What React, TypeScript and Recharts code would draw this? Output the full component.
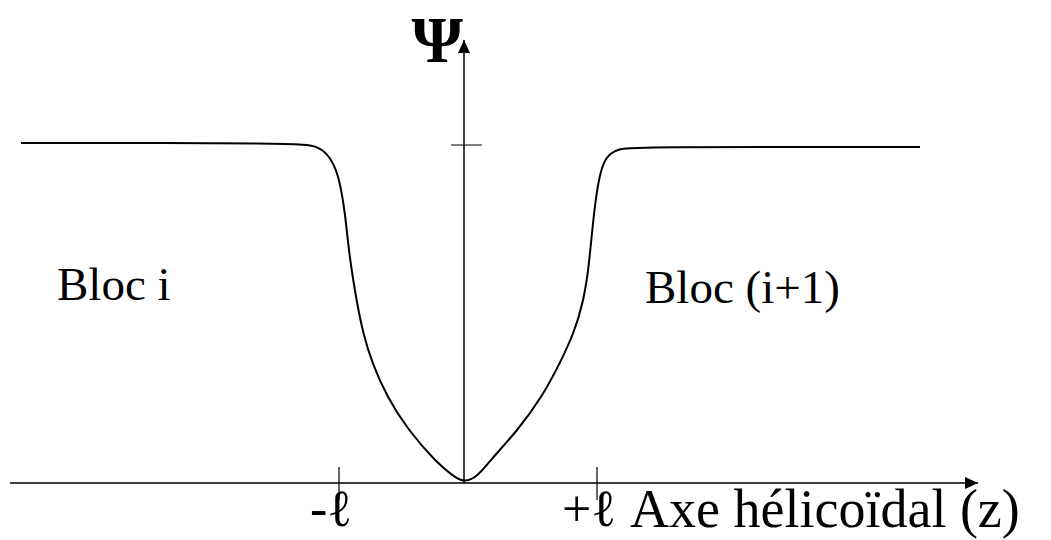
import { Line, LineChart, ReferenceDot, ReferenceLine, XAxis, YAxis } from 'recharts';

// z: position along the helical axis, psi: potential (arbitrary units)
const zValues = [
  -443, -164, -148, -137, -128, -123, -119, -116, -112, -107, -101, -92, -77, -56, -27, -12, 0,
  14, 24, 54, 78, 96, 110, 119, 124, 127, 130, 134, 139, 146, 156, 168, 456,
];
const psiValues = [
  340, 340, 337, 330, 315, 295, 270, 240, 210, 180, 150, 120, 86, 53, 20, 8, 0,
  7, 20, 53, 86, 120, 150, 180, 210, 240, 270, 300, 320, 330, 334, 336, 336,
];
const xTicks = [-125, 133];
const xTickLabels = ['-ℓ', '+ℓ'];
const psiTick = 338;

const data = zValues.map((z, i) => ({ z, psi: psiValues[i] }));
const serif = '"Liberation Serif", "Times New Roman", serif';

function ZTick({ x, y, index }: { x?: number; y?: number; index?: number }) {
  const cx = x ?? 0;
  const cy = y ?? 0;
  return (
    <g>
      <line x1={cx} x2={cx} y1={cy - 33} y2={cy} stroke="#000" strokeWidth={1.2} />
      <text x={cx - 8} y={cy + 26} textAnchor="middle" fontFamily={serif} fontSize={52} fill="#000">
        {xTickLabels[index ?? 0]}
      </text>
    </g>
  );
}

function textShape(label: string, opts: { size: number; anchor?: string; bold?: boolean }) {
  return (p: { cx?: number; cy?: number }) => (
    <text
      x={p.cx}
      y={p.cy}
      textAnchor={opts.anchor ?? 'start'}
      fontFamily={serif}
      fontSize={opts.size}
      fontWeight={opts.bold ? 'bold' : 'normal'}
      fill="#000"
    >
      {label}
    </text>
  );
}

const arrowRight = (p: { cx?: number; cy?: number }) => {
  const cx = p.cx ?? 0;
  const cy = p.cy ?? 0;
  return <polygon points={`${cx},${cy} ${cx - 13},${cy - 6} ${cx - 13},${cy + 6}`} fill="#000" />;
};

const arrowUp = (p: { cx?: number; cy?: number }) => {
  const cx = p.cx ?? 0;
  const cy = p.cy ?? 0;
  return <polygon points={`${cx},${cy} ${cx - 6},${cy + 13} ${cx + 6},${cy + 13}`} fill="#000" />;
};

export default function App() {
  return (
    <div style={{ position: 'absolute', left: 0, top: 0, background: '#fff' }}>
      <LineChart width={1051} height={540} data={data} margin={{ top: 40, right: 73, bottom: 0, left: 10 }}>
        <XAxis
          dataKey="z"
          type="number"
          domain={[-454, 514]}
          ticks={xTicks}
          tick={<ZTick />}
          tickLine={false}
          tickSize={17}
          tickMargin={0}
          height={57}
          axisLine={{ stroke: '#000', strokeWidth: 1.5 }}
          interval={0}
        />
        <YAxis type="number" domain={[0, 443]} hide allowDataOverflow />
        <ReferenceLine x={0} stroke="#000" strokeWidth={1.5} />
        <ReferenceLine
          segment={[
            { x: -13, y: psiTick },
            { x: 18, y: psiTick },
          ]}
          stroke="#000"
          strokeWidth={1}
        />
        <ReferenceDot x={514} y={0} r={0} shape={arrowRight} ifOverflow="visible" />
        <ReferenceDot x={0} y={443} r={0} shape={arrowUp} ifOverflow="visible" />
        <ReferenceDot x={-1} y={421} r={0} shape={textShape('Ψ', { size: 66, anchor: 'end', bold: true })} ifOverflow="visible" />
        <ReferenceDot x={-407} y={183} r={0} shape={textShape('Bloc i', { size: 47 })} ifOverflow="visible" />
        <ReferenceDot x={181} y={180} r={0} shape={textShape('Bloc (i+1)', { size: 47 })} ifOverflow="visible" />
        <ReferenceDot x={166} y={-44} r={0} shape={textShape('Axe hélicoïdal (z)', { size: 54 })} ifOverflow="visible" />
        <Line
          type="basis"
          dataKey="psi"
          stroke="#000"
          strokeWidth={2}
          dot={false}
          isAnimationActive={false}
        />
      </LineChart>
    </div>
  );
}
